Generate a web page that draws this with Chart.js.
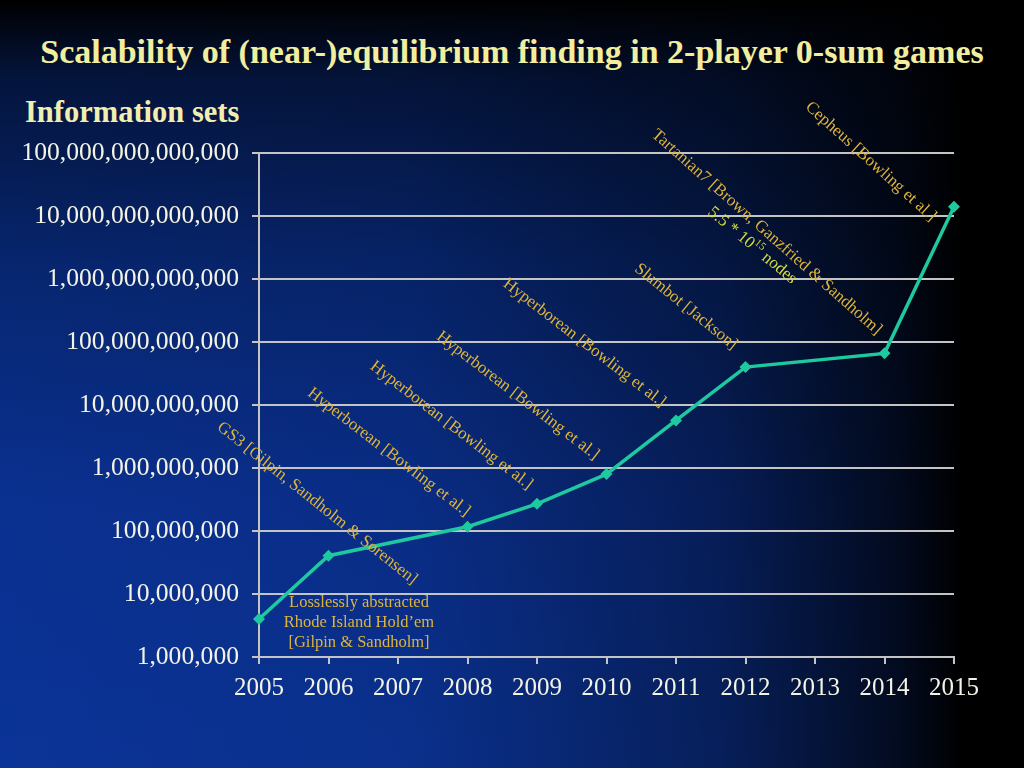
<!DOCTYPE html>
<html><head><meta charset="utf-8">
<script src="https://cdn.jsdelivr.net/npm/chart.js@4"></script>
<style>
html,body{margin:0;padding:0;width:1024px;height:768px;overflow:hidden;}
body{position:relative;font-family:"Liberation Serif","Times New Roman",serif;
background:
 linear-gradient(to right, rgba(0,0,0,0) 0%, rgba(0,0,0,0.08) 40%, rgba(0,0,0,0.4) 70%, rgba(0,0,0,0.8) 88%, #000 94%, #000 100%),
 linear-gradient(to bottom, #000 0%, #04143c 10%, #072670 35%, #0a3090 65%, #0b3498 100%);}
#title{position:absolute;left:0;top:35px;width:1024px;text-align:center;font-weight:bold;font-size:34px;line-height:34px;color:#f2eea0;white-space:nowrap;}
#ylab{position:absolute;left:25px;top:97px;font-weight:bold;font-size:30.5px;line-height:30px;color:#f2eeb0;white-space:nowrap;}
#c{position:absolute;left:0;top:0;}
</style></head>
<body>
<div id="title">Scalability of (near-)equilibrium finding in 2-player 0-sum games</div>
<div id="ylab">Information sets</div>
<canvas id="c" width="1024" height="768"></canvas>
<script>
// ---- data ----
const years = ['2005','2006','2007','2008','2009','2010','2011','2012','2013','2014','2015'];
const infoSets = [4.0e6, 4.05e7, null, 1.17e8, 2.7e8, 8.0e8, 5.7e9, 4.0e10, null, 6.6e10, 1.4e13];
const yTickValues = [1e6,1e7,1e8,1e9,1e10,1e11,1e12,1e13,1e14];
const annoTexts = [
  'GS3 [Gilpin, Sandholm & Sørensen]',
  'Hyperborean [Bowling et al.]',
  'Hyperborean [Bowling et al.]',
  'Hyperborean [Bowling et al.]',
  'Hyperborean [Bowling et al.]',
  'Slumbot [Jackson]',
  'Tartanian7 [Brown, Ganzfried & Sandholm]',
  'Cepheus [Bowling et al.]'
];
const annoAnchor = [1,3,4,5,6,7,9,10];
const nodesParts = ['5.5 * 10','15',' nodes'];
const rhodeLines = ['Losslessly abstracted','Rhode Island Hold\u2019em','[Gilpin & Sandholm]'];

// ---- layout / style for annotations ----
const annoLayout = [
  {dx:84, dy:29, a:38.5},
  {dx:-2, dy:-10, a:37.5},
  {dx:-9, dy:-14, a:37.5},
  {dx:-12, dy:-14, a:37.5},
  {dx:-15, dy:-13, a:37.5},
  {dx:-13, dy:-17, a:39},
  {dx:-8, dy:-18, a:41.5},
  {dx:-23, dy:15, a:42}
];
const gold = '#deb43a';
const FONT = '"Liberation Serif", "Times New Roman", serif';
const tickColor = '#f4f4e6';
const gridColor = '#c4c4c4';

const annotPlugin = {
  id:'annot',
  afterDatasetsDraw(chart){
    const {ctx, scales:{x,y}} = chart;
    ctx.save();
    ctx.font = '17px ' + FONT;
    ctx.fillStyle = gold;
    annoTexts.forEach((t,i)=>{
      const idx = annoAnchor[i], L = annoLayout[i];
      const px = x.getPixelForValue(idx), py = y.getPixelForValue(infoSets[idx]);
      ctx.save();
      ctx.translate(px+L.dx, py+L.dy);
      ctx.rotate(L.a*Math.PI/180);
      ctx.textAlign='right'; ctx.textBaseline='alphabetic';
      ctx.fillText(t,0,0);
      ctx.restore();
    });
    // nodes label
    {
      const px = x.getPixelForValue(9), py = y.getPixelForValue(infoSets[9]);
      ctx.save();
      ctx.translate(px-93, py-69);
      ctx.rotate(40*Math.PI/180);
      ctx.fillStyle = '#d6dc3e';
      ctx.textAlign='left'; ctx.textBaseline='alphabetic';
      ctx.font = '17px ' + FONT;
      const w0 = ctx.measureText(nodesParts[0]).width;
      const w2 = ctx.measureText(nodesParts[2]).width;
      ctx.font = '11px ' + FONT;
      const w1 = ctx.measureText(nodesParts[1]).width;
      const total = w0+w1+w2;
      let cx = -total;
      ctx.font = '17px ' + FONT; ctx.fillText(nodesParts[0], cx, 0); cx += w0;
      ctx.font = '11px ' + FONT; ctx.fillText(nodesParts[1], cx, -7); cx += w1;
      ctx.font = '17px ' + FONT; ctx.fillText(nodesParts[2], cx, 0);
      ctx.restore();
    }
    // Rhode Island block
    {
      const px = x.getPixelForValue(0), py = y.getPixelForValue(infoSets[0]);
      ctx.font = '16.5px ' + FONT;
      ctx.fillStyle = gold;
      ctx.textAlign='center'; ctx.textBaseline='alphabetic';
      rhodeLines.forEach((l,i)=>ctx.fillText(l, px+100, py-12+i*20));
    }
    ctx.restore();
  }
};

new Chart(document.getElementById('c'), {
  type:'line',
  data:{
    labels: years,
    datasets:[{
      data: infoSets,
      borderColor:'#1fc9a0',
      backgroundColor:'#1fc9a0',
      borderWidth:3.5,
      pointStyle:'rectRot',
      pointRadius:6,
      pointBackgroundColor:'#1fc9a0',
      pointBorderColor:'#1fc9a0',
      pointBorderWidth:0,
      spanGaps:true,
      tension:0,
      clip:false
    }]
  },
  options:{
    responsive:false,
    animation:false,
    devicePixelRatio:1,
    layout:{padding:{left:0,right:70,top:153,bottom:0}},
    plugins:{legend:{display:false},title:{display:false},tooltip:{enabled:false}},
    scales:{
      x:{
        type:'category',
        offset:false,
        grid:{display:true,drawOnChartArea:false,drawTicks:true,tickLength:7,color:gridColor,lineWidth:2},
        border:{display:true,color:gridColor,width:2},
        ticks:{color:tickColor,font:{family:FONT,size:25},padding:9,maxRotation:0,autoSkip:false},
        afterFit(s){ s.height = 111; }
      },
      y:{
        type:'logarithmic',
        min:1e6, max:1e14,
        grid:{color:gridColor,lineWidth:2,tickLength:7,drawTicks:true},
        border:{display:true,color:gridColor,width:2},
        ticks:{color:tickColor,font:{family:FONT,size:25.6},padding:13,
          callback:(v)=>Number(v).toLocaleString('en-US')},
        afterBuildTicks(s){ s.ticks = yTickValues.map(v=>({value:v})); },
        afterFit(s){ s.width = 259; }
      }
    }
  },
  plugins:[annotPlugin]
});
</script>
</body></html>
